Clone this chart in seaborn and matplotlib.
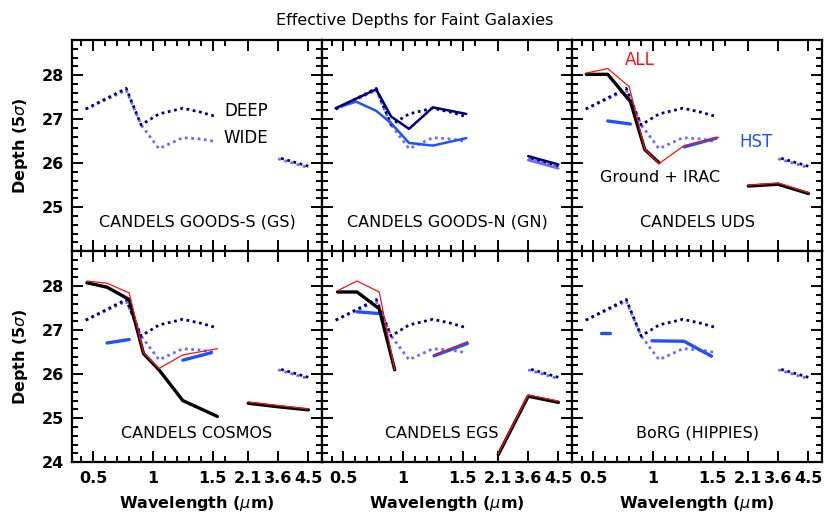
import numpy as np
import matplotlib
matplotlib.use("Agg")
import matplotlib.pyplot as plt
import seaborn as sns

# ─────────────────────────────────────────────
# DATA  (wavelength in micron, depth in AB mag)
# ─────────────────────────────────────────────
# reference DEEP / WIDE curves, drawn dotted in every panel
REF_WAVE = [0.435, 0.775, 0.9, 1.05, 1.25, 1.4, 1.53]
DEEP_MAG = [27.23, 27.70, 26.87, 27.12, 27.25, 27.16, 27.06]
WIDE_MAG = [27.23, 27.66, 26.87, 26.33, 26.58, 26.55, 26.49]
IRAC_WAVE = [3.6, 4.5]
DEEP_IRAC = [26.13, 25.93]
WIDE_IRAC = [26.10, 25.90]

# GOODS-N
GN_DEEP_WAVE = [0.435, 0.775, 0.9, 1.05, 1.25, 1.53]
GN_DEEP_MAG = [27.25, 27.68, 27.06, 26.78, 27.27, 27.12]
GN_WIDE_WAVE = [0.435, 0.606, 0.775, 0.9, 1.05, 1.25, 1.53]
GN_WIDE_MAG = [27.25, 27.40, 27.19, 26.91, 26.46, 26.40, 26.57]
GN_DEEP_IRAC = [26.16, 25.97]
GN_WIDE_IRAC = [26.07, 25.88]

# UDS
UDS_WAVE = [0.44, 0.62, 0.80, 0.93, 1.05, 1.26, 1.55]
UDS_ALL = [28.05, 28.15, 27.74, 26.32, 25.99, 26.40, 26.59]
UDS_GROUND_WAVE = [0.44, 0.62, 0.81, 0.93, 1.05]
UDS_GROUND = [28.02, 28.02, 27.40, 26.31, 26.01]
UDS_HST_OPT_WAVE = [0.62, 0.81]
UDS_HST_OPT = [26.96, 26.89]
UDS_HST_NIR_WAVE = [1.26, 1.53]
UDS_HST_NIR = [26.37, 26.57]
KIRAC_WAVE = [2.1, 3.6, 4.5]
UDS_GROUND_KIRAC = [25.48, 25.52, 25.31]
UDS_ALL_KIRAC = [25.50, 25.55, 25.33]

# COSMOS
COS_WAVE = [0.445, 0.614, 0.80, 0.92, 1.05, 1.25, 1.54]
COS_GROUND = [28.08, 27.98, 27.70, 26.47, 26.10, 25.40, 25.04]
COS_ALL = [28.12, 28.07, 27.85, 26.49, 26.13, 26.44, 26.58]
COS_HST_OPT_WAVE = [0.614, 0.80]
COS_HST_OPT = [26.71, 26.79]
COS_HST_NIR_WAVE = [1.25, 1.49]
COS_HST_NIR = [26.32, 26.49]
COS_GROUND_KIRAC = [25.34, 25.26, 25.19]
COS_ALL_KIRAC = [25.37, 25.29, 25.21]

# EGS
EGS_WAVE = [0.45, 0.614, 0.80, 0.93]
EGS_GROUND = [27.87, 27.87, 27.49, 26.10]
EGS_ALL = [27.90, 28.12, 27.87, 26.10]
EGS_NIR_WAVE = [1.26, 1.54]
EGS_ALL_NIR = [26.44, 26.74]
EGS_HST_OPT_WAVE = [0.614, 0.80]
EGS_HST_OPT = [27.42, 27.38]
EGS_HST_NIR = [26.42, 26.70]
EGS_GROUND_KIRAC = [24.17, 25.50, 25.36]
EGS_ALL_KIRAC = [24.19, 25.53, 25.39]

# BoRG
BORG_OPT_WAVE = [0.56, 0.64]
BORG_OPT = [26.93, 26.93]
BORG_NIR_WAVE = [0.99, 1.26, 1.49]
BORG_NIR = [26.76, 26.75, 26.41]

PANEL_NAMES = ["CANDELS GOODS-S (GS)", "CANDELS GOODS-N (GN)", "CANDELS UDS",
               "CANDELS COSMOS", "CANDELS EGS", "BoRG (HIPPIES)"]
XTICKS = [0.5, 1.0, 1.5, 2.1, 3.6, 4.5]
XTICKLABELS = ["0.5", "1", "1.5", "2.1", "3.6", "4.5"]
XMINOR = [0.4, 0.6, 0.7, 0.8, 0.9, 1.1, 1.2, 1.3, 1.4, 1.6]
YTICKS = [24, 25, 26, 27, 28]

# ─────────────────────────────────────────────
# STYLE
# ─────────────────────────────────────────────
sns.set_style("ticks")
plt.rcParams["font.family"] = ["DejaVu Sans"]
for key in ["text.color", "axes.labelcolor", "xtick.color", "ytick.color",
            "axes.edgecolor"]:
    plt.rcParams[key] = "black"

NAVY = "#00007a"
LIGHT = "#6b6bff"
BLUE = "#1f52ff"
RED = "#ff1010"
DOT = (0, (1, 1.3))

# piecewise wavelength axis: linear to 1.6um, then fixed slots for K, 3.6, 4.5
LAM_PTS = np.array([0.0, 1.6, 2.1, 3.6, 4.5, 10.0])
U_PTS = np.array([-0.152, 0.606, 0.700, 0.819, 0.939, 1.600])


def fwd(x):
    return np.interp(x, LAM_PTS, U_PTS)


def inv(u):
    return np.interp(u, U_PTS, LAM_PTS)


def seg(ax, x, y, **kw):
    sns.lineplot(x=x, y=y, ax=ax, sort=False, estimator=None, legend=False, **kw)


def reference(ax):
    dots = dict(lw=2.0, dash_capstyle="butt")
    seg(ax, REF_WAVE, WIDE_MAG, color=LIGHT, linestyle=DOT, **dots)
    seg(ax, REF_WAVE, DEEP_MAG, color=NAVY, linestyle=DOT, **dots)
    seg(ax, IRAC_WAVE, WIDE_IRAC, color=LIGHT, linestyle=DOT, **dots)
    seg(ax, IRAC_WAVE, DEEP_IRAC, color=NAVY, linestyle=(1.2, (1, 1.3)), **dots)


fig, axes = plt.subplots(2, 3, figsize=(8.3, 5.27), dpi=100)
fig.subplots_adjust(left=0.0867, right=0.9904, top=0.924, bottom=0.123,
                    wspace=0, hspace=0)

for ax in axes.flat:
    ax.set_xscale("function", functions=(fwd, inv))
    reference(ax)

BLK = dict(color="black", lw=2.4)
THIN = dict(color=RED, lw=0.9)
HST = dict(color=BLUE, lw=2.4)

# GN
ax = axes[0, 1]
seg(ax, GN_WIDE_WAVE, GN_WIDE_MAG, color=BLUE, lw=1.8)
seg(ax, GN_DEEP_WAVE, GN_DEEP_MAG, color=NAVY, lw=1.8)
seg(ax, IRAC_WAVE, GN_WIDE_IRAC, color=LIGHT, lw=1.8)
seg(ax, IRAC_WAVE, GN_DEEP_IRAC, color=NAVY, lw=1.8)

# UDS
ax = axes[0, 2]
seg(ax, UDS_HST_OPT_WAVE, UDS_HST_OPT, **HST)
seg(ax, UDS_HST_NIR_WAVE, UDS_HST_NIR, **HST)
seg(ax, UDS_GROUND_WAVE, UDS_GROUND, **BLK)
seg(ax, KIRAC_WAVE, UDS_GROUND_KIRAC, **BLK)
seg(ax, UDS_WAVE, UDS_ALL, **THIN)
seg(ax, KIRAC_WAVE, UDS_ALL_KIRAC, **THIN)

# COSMOS
ax = axes[1, 0]
seg(ax, COS_HST_OPT_WAVE, COS_HST_OPT, **HST)
seg(ax, COS_HST_NIR_WAVE, COS_HST_NIR, **HST)
seg(ax, COS_WAVE, COS_GROUND, **BLK)
seg(ax, KIRAC_WAVE, COS_GROUND_KIRAC, **BLK)
seg(ax, COS_WAVE, COS_ALL, **THIN)
seg(ax, KIRAC_WAVE, COS_ALL_KIRAC, **THIN)

# EGS
ax = axes[1, 1]
seg(ax, EGS_HST_OPT_WAVE, EGS_HST_OPT, **HST)
seg(ax, EGS_NIR_WAVE, EGS_HST_NIR, **HST)
seg(ax, EGS_WAVE, EGS_GROUND, **BLK)
seg(ax, KIRAC_WAVE, EGS_GROUND_KIRAC, **BLK)
seg(ax, EGS_WAVE, EGS_ALL, **THIN)
seg(ax, EGS_NIR_WAVE, EGS_ALL_NIR, **THIN)
seg(ax, KIRAC_WAVE, EGS_ALL_KIRAC, **THIN)

# BoRG
ax = axes[1, 2]
seg(ax, BORG_OPT_WAVE, BORG_OPT, **HST)
seg(ax, BORG_NIR_WAVE, BORG_NIR, **HST)

# ─────────────────────────────────────────────
# AXES
# ─────────────────────────────────────────────
name_x = [0.5, 0.5, 0.5, 0.5, 0.48, 0.5]
for i, ax in enumerate(axes.flat):
    row, col = divmod(i, 3)
    ax.set_xlim(0.32, 4.95)
    ax.set_ylim(24, 28.8)
    ax.set_xticks(XTICKS)
    ax.set_xticks(XMINOR, minor=True)
    ax.set_yticks(YTICKS)
    ax.set_yticks(np.arange(24.2, 28.8, 0.2), minor=True)
    if row == 1:
        ax.set_xticklabels(XTICKLABELS, fontweight="bold")
    else:
        ax.set_xticklabels([])
    if col == 0:
        labels = [str(t) for t in YTICKS]
        if row == 0:
            labels[0] = ""
        ax.set_yticklabels(labels, fontweight="bold")
    else:
        ax.set_yticklabels([])
    ax.tick_params(which="both", direction="in", top=True, right=True, width=1.4,
                   labelsize=11.5, pad=6)
    ax.tick_params(which="major", length=8)
    ax.tick_params(which="minor", length=4.5)
    for sp in ax.spines.values():
        sp.set_linewidth(1.6)
    ax.set_xlabel("")
    ax.set_ylabel("")
    ax.text(name_x[i], 0.137, PANEL_NAMES[i], transform=ax.transAxes,
            ha="center", va="center", fontsize=11.5)

for ax in axes[1]:
    ax.set_xlabel(r"Wavelength ($\mu$m)", fontsize=11.5, fontweight="bold", labelpad=6)
for ax in axes[:, 0]:
    ax.set_ylabel(r"Depth (5$\sigma$)", fontsize=11.5, fontweight="bold", labelpad=8)

axes[0, 0].text(0.696, 0.664, "DEEP", transform=axes[0, 0].transAxes,
                ha="center", va="center", fontsize=12)
axes[0, 0].text(0.696, 0.536, "WIDE", transform=axes[0, 0].transAxes,
                ha="center", va="center", fontsize=12)
axes[0, 2].text(0.272, 0.905, "ALL", transform=axes[0, 2].transAxes,
                ha="center", va="center", fontsize=12, color=RED)
axes[0, 2].text(0.736, 0.517, "HST", transform=axes[0, 2].transAxes,
                ha="center", va="center", fontsize=12, color=BLUE)
axes[0, 2].text(0.352, 0.351, "Ground + IRAC", transform=axes[0, 2].transAxes,
                ha="center", va="center", fontsize=11.5)

fig.suptitle("Effective Depths for Faint Galaxies", x=0.5, y=0.975, fontsize=11.5)

fig.savefig("out.png", dpi=100)
